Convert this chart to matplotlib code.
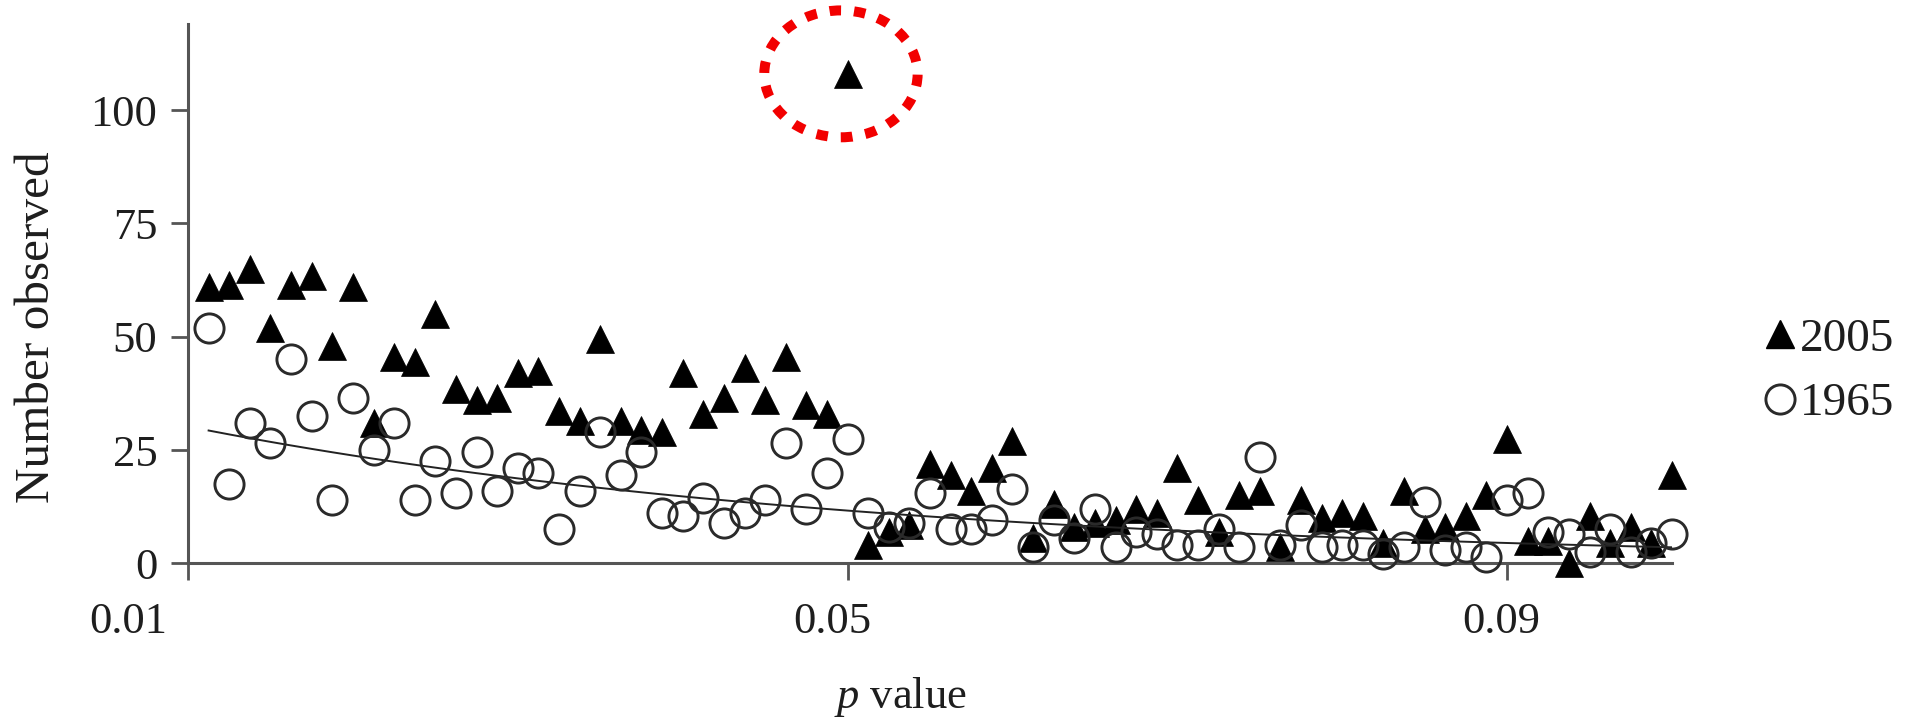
import numpy as np
import matplotlib.pyplot as plt
import matplotlib.transforms as mtransforms
from matplotlib.lines import Line2D
from matplotlib.patches import Ellipse

plt.rcParams["font.family"] = ["Liberation Serif", "DejaVu Serif"]
plt.rcParams["mathtext.fontset"] = "custom"
plt.rcParams["mathtext.rm"] = "Liberation Serif"
plt.rcParams["mathtext.it"] = "Liberation Serif:italic"

# p value of each point
p_values = [
    0.01125, 0.0125, 0.01375, 0.015, 0.01625, 0.0175, 0.01875, 0.02,
    0.02125, 0.0225, 0.02375, 0.025, 0.02625, 0.0275, 0.02875, 0.03,
    0.03125, 0.0325, 0.03375, 0.035, 0.03625, 0.0375, 0.03875, 0.04,
    0.04125, 0.0425, 0.04375, 0.045, 0.04625, 0.0475, 0.04875, 0.05,
    0.05125, 0.0525, 0.05375, 0.055, 0.05625, 0.0575, 0.05875, 0.06,
    0.06125, 0.0625, 0.06375, 0.065, 0.06625, 0.0675, 0.06875, 0.07,
    0.07125, 0.0725, 0.07375, 0.075, 0.07625, 0.0775, 0.07875, 0.08,
    0.08125, 0.0825, 0.08375, 0.085, 0.08625, 0.0875, 0.08875, 0.09,
    0.09125, 0.0925, 0.09375, 0.095, 0.09625, 0.0975, 0.09875, 0.1,
]

counts_2005 = [
    61, 61.5, 65, 52, 61.5, 63.5, 48, 61,
    31, 45.5, 44.5, 55, 38.5, 36, 36.5, 42,
    42.5, 33.5, 31.5, 49.5, 31.5, 29.5, 29, 42,
    33, 36.5, 43, 36, 45.5, 35, 33, 108,
    4, 7, 8.5, 22, 19.5, 16, 21, 27,
    5.5, 13, 8, 9, 9.5, 12, 11, 21,
    14, 7, 15, 16, 3.5, 14, 10, 11,
    10.5, 4.5, 16, 7.5, 8, 10.5, 15, 27.5,
    5, 5, 0, 10.5, 4.5, 8, 4.5, 19.5,
]

counts_1965 = [
    52, 17.5, 31, 26.5, 45, 32.5, 14, 36.5,
    25, 31, 14, 22.5, 15.5, 24.5, 16, 21,
    20, 7.5, 16, 29, 19.5, 24.5, 11, 10.5,
    14.5, 9, 11, 14, 26.5, 12, 20, 27.5,
    11, 8, 9, 15.5, 7.5, 7.5, 9.5, 16.5,
    3.5, 9.5, 5.5, 12, 3.5, 7, 6.5, 4,
    4, 7.5, 3.5, 23.5, 4, 8.5, 3.5, 4,
    4, 2, 3.5, 13.5, 3, 3.5, 1.5, 14,
    15.5, 7, 6.5, 2.5, 7.5, 2.5, 4.5, 6.5,
]

x_ticks = [0.01, 0.05, 0.09]
x_tick_labels = ["0.01", "0.05", "0.09"]
y_ticks = [0, 25, 50, 75, 100]

W, H = 1911, 721
fig = plt.figure(figsize=(W / 100, H / 100), dpi=100)
ax = fig.add_axes([188 / W, 1 - 563.3 / H, (1672 - 188) / W, (563.3 - 24) / H])

p = np.array(p_values)
y05 = np.array(counts_2005)
y65 = np.array(counts_1965)

ax.plot(p, y05, ls="none", marker="^", ms=20, mfc="black", mec="black",
        mew=0.5, clip_on=False, zorder=3, label="2005")

# exponential trendline fitted to the 1965 counts
b, a = np.polyfit(p, np.log(y65), 1)
ax.plot(p, np.exp(a + b * p), color="#222222", lw=1.4, zorder=4)

ax.plot(p, y65, ls="none", marker="o", ms=21, mfc="none", mec="#2a2a2a",
        mew=2.1, clip_on=False, zorder=5, label="1965")

# red dotted ring round the spike
imax = int(np.argmax(y05))
ring = Ellipse((p[imax] - 0.0004, y05[imax]), width=0.0093, height=28,
               fill=False, edgecolor="#f20000", lw=7.2,
               linestyle=(0, (1.15, 1.3)), clip_on=False, zorder=6)
ax.add_patch(ring)

ax.set_xlim(0.01, 0.1)
ax.set_ylim(0, 119)
ax.set_xticks(x_ticks)
ax.set_xticklabels(x_tick_labels)
ax.set_yticks(y_ticks)

for side in ["top", "right"]:
    ax.spines[side].set_visible(False)
for side in ["left", "bottom"]:
    ax.spines[side].set_color("#555555")
    ax.spines[side].set_linewidth(2.2)

ax.tick_params(axis="both", direction="out", length=12, width=2.0,
               color="#555555", labelsize=32, labelcolor="#1e1e1e")
ax.tick_params(axis="x", pad=16)
ax.tick_params(axis="y", pad=10)

# tick labels sit a little left of their ticks in the original
shifts = [-0.6, -0.15, -0.06]
for lab, dx in zip(ax.get_xticklabels(), shifts):
    lab.set_transform(lab.get_transform() +
                      mtransforms.ScaledTranslation(dx, 0, fig.dpi_scale_trans))

fig.text(37 / W, 1 - 327 / H, "Number observed", rotation=90,
         ha="center", va="center", fontsize=35.5, color="#1e1e1e")
fig.text(900 / W, 1 - 697 / H, "$p$ value", ha="center", va="center",
         fontsize=32, color="#1e1e1e")

handles = [
    Line2D([], [], ls="none", marker="^", ms=20, mfc="black", mec="black"),
    Line2D([], [], ls="none", marker="o", ms=21, mfc="none",
           mec="#2a2a2a", mew=2.1),
]
ax.legend(handles, ["2005", "1965"], loc="center left",
          bbox_to_anchor=(1766 / W, 1 - 371.5 / H),
          bbox_transform=fig.transFigure, frameon=False, fontsize=34,
          handlelength=0.6, handletextpad=0.12, labelspacing=0.45,
          borderpad=0, borderaxespad=0, labelcolor="#1e1e1e")

fig.savefig("out.png", dpi=100)
